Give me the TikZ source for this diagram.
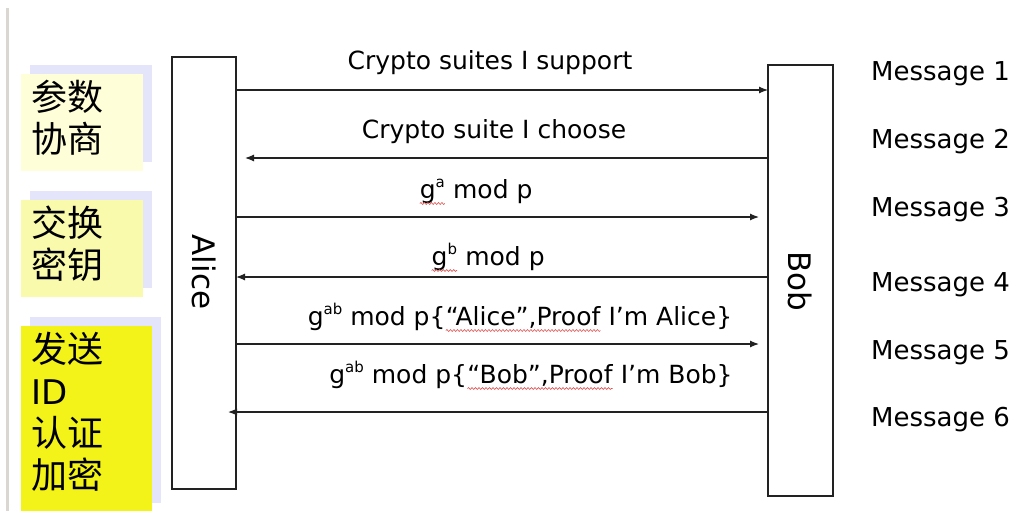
\documentclass[tikz,border=0pt]{standalone}
\usepackage{fontspec}
\usetikzlibrary{arrows.meta,shadows,decorations.pathmorphing}
\setmainfont{DejaVu Sans}
\newfontfamily\cjk{Noto Sans CJK SC}

\definecolor{paleY}{HTML}{FEFED9}
\definecolor{softY}{HTML}{FAFAAC}
\definecolor{brightY}{HTML}{F3F31A}
\definecolor{lavshade}{HTML}{E4E4FA}
\definecolor{railgray}{HTML}{DAD6D2}
\definecolor{wavered}{HTML}{E05050}
\definecolor{ink}{HTML}{222222}

% spell-check style squiggle under a word
\newcommand\spellmark[1]{\tikz[baseline=(sw.base)]{%
  \node[inner sep=0pt, outer sep=0pt] (sw) {#1};
  \draw[wavered, line width=0.6pt, decorate,
        decoration={snake, amplitude=1pt, segment length=3.5pt}]
    ([yshift=-5.5pt]sw.base west) -- ([yshift=-5.5pt]sw.base east);}}
% small raised exponent
\newcommand\expo[1]{\raisebox{0.42em}{\fontsize{15}{15}\selectfont #1}}

\begin{document}
\begin{tikzpicture}[x=1pt,y=-1pt,
  phase/.style={anchor=north west, inner sep=0pt, outer sep=0pt,
    copy shadow={shadow xshift=9pt, shadow yshift=9pt, fill=lavshade, draw=none}},
  phasetext/.style={anchor=north west, align=left, inner sep=0pt,
    font=\cjk\fontsize{36}{42}\selectfont},
  party/.style={draw=ink, line width=1.5pt, fill=white, anchor=north west,
    inner sep=0pt, outer sep=0pt},
  partyname/.style={rotate=-90, font=\fontsize{31}{31}\selectfont},
  msg/.style={draw=ink, line width=1.2pt, -{Latex[length=9pt,width=7pt]}},
  lbl/.style={anchor=base, font=\fontsize{25}{25}\selectfont, inner sep=0pt},
  msgno/.style={anchor=base west, font=\fontsize{26}{26}\selectfont, inner sep=0pt}]

\useasboundingbox (0,0) rectangle (1018,511);

% thin rail along the left border
\draw[railgray, line width=2.5pt] (7.5,8) -- (7.5,511);

% phase boxes on the left
\node[phase, fill=paleY, minimum width=122pt, minimum height=97pt] (neg) at (21,74) {};
\node[phase, fill=softY, minimum width=122pt, minimum height=97pt] (kex) at (21,200) {};
\node[phase, fill=brightY, minimum width=131pt, minimum height=186pt] (auth) at (21,326) {};

\node[phasetext] (negtxt) at (31,80) {参数\\协商};
\node[phasetext] (kextxt) at (31,206) {交换\\密钥};
\node[phasetext] (authtxt) at (31,332) {发送\\{\rmfamily\fontsize{34}{42}\selectfont ID}\\认证\\加密};

% the two parties
\node[party, minimum width=64pt, minimum height=432pt] (alice) at (172,57) {};
\node[party, minimum width=65pt, minimum height=431pt] (bob) at (768,65) {};
\node[partyname] (alicename) at (204,272) {Alice};
\node[partyname] (bobname) at (800,281) {Bob};

% levels of the six messages
\coordinate (y1) at (0,90);
\coordinate (y2) at (0,158);
\coordinate (y3) at (0,217);
\coordinate (y4) at (0,277);
\coordinate (y5) at (0,344);
\coordinate (y6) at (0,412);

\draw[msg] (alice.east |- y1) -- (bob.west |- y1);
\draw[msg] (bob.west |- y2) -- ([xshift=9pt]alice.east |- y2);
\draw[msg] (alice.east |- y3) -- ([xshift=-9pt]bob.west |- y3);
\draw[msg] (bob.west |- y4) -- (alice.east |- y4);
\draw[msg] (alice.east |- y5) -- ([xshift=-9pt]bob.west |- y5);
\draw[msg] (bob.west |- y6) -- ([xshift=-8pt]alice.east |- y6);

% message contents
\node[lbl] (lab1) at (490,70) {Crypto suites I support};
\node[lbl] (lab2) at (494,138) {Crypto suite I choose};
\node[lbl] (lab3) at (476,198) {\spellmark{g\expo{a}} mod p};
\node[lbl] (lab4) at (488,265) {\spellmark{g\expo{b}} mod p};
\node[lbl] (lab5) at (520,325) {g\expo{ab} mod p\{\spellmark{“Alice”,Proof} I’m Alice\}};
\node[lbl] (lab6) at (531,383) {g\expo{ab} mod p\{\spellmark{“Bob”,Proof} I’m Bob\}};

% message numbers
\node[msgno] (n1) at (871,81) {Message 1};
\node[msgno] (n2) at (871,148) {Message 2};
\node[msgno] (n3) at (871,216) {Message 3};
\node[msgno] (n4) at (871,291) {Message 4};
\node[msgno] (n5) at (871,359) {Message 5};
\node[msgno] (n6) at (871,426) {Message 6};
\end{tikzpicture}
\end{document}
